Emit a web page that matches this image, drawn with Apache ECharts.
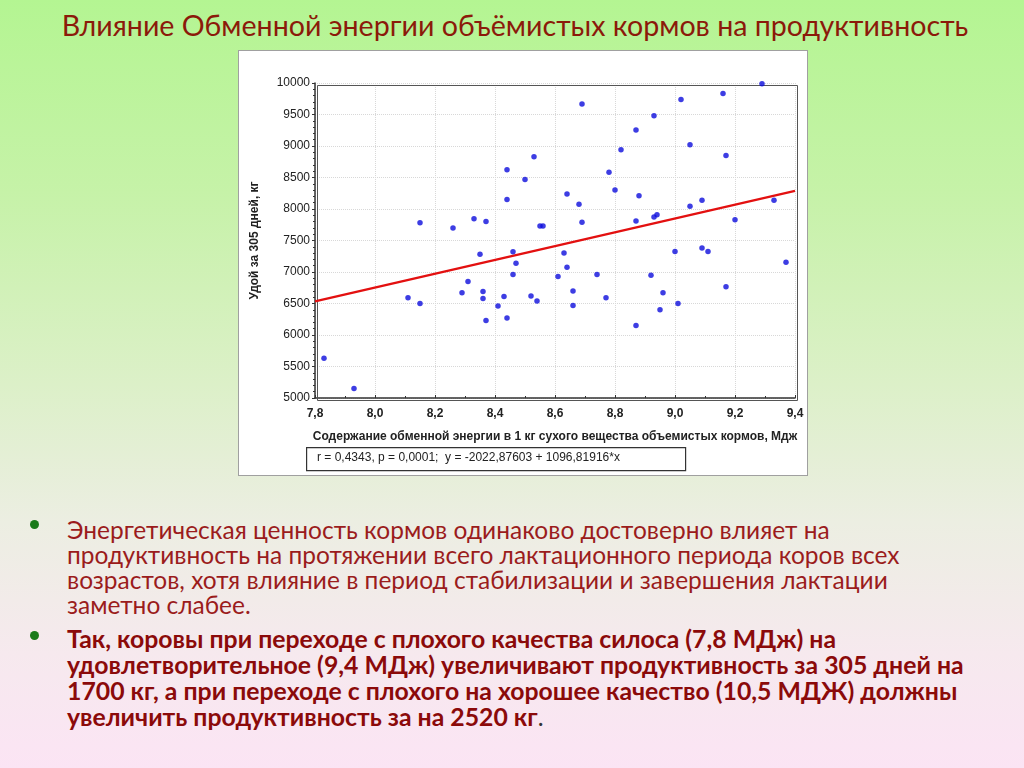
<!DOCTYPE html>
<html><head><meta charset="utf-8">
<script src="https://cdn.jsdelivr.net/npm/echarts@6/dist/echarts.min.js"></script>
<style>
html,body{margin:0;padding:0;width:1024px;height:768px;overflow:hidden;}
body{background:linear-gradient(to bottom,#b4f592 0%,#c6f2a8 25%,#dcf0c8 50%,#eceee2 68%,#f6e9ee 85%,#fbe4f4 100%);font-family:Lato,"Open Sans",sans-serif;position:relative;}
#title{position:absolute;left:0;top:8px;width:1030px;text-align:center;font-size:28.6px;color:#8b1a0a;white-space:nowrap;}
#panel{position:absolute;left:238px;top:50px;width:570px;height:426px;background:#fff;border:1px solid #a0a0a0;box-sizing:border-box;}
#chart{width:568px;height:424px;}
.b{position:absolute;left:67px;font-size:24.5px;line-height:25px;color:#9b1c1c;white-space:nowrap;}
.dot{position:absolute;left:30px;width:9px;height:9px;border-radius:50%;background:#1a7a1a;}
#b2{font-weight:bold;font-size:24.8px;color:#8b0a0a;line-height:26px;}
</style></head>
<body>
<div id="title">Влияние Обменной энергии объёмистых кормов на продуктивность</div>
<div id="panel"><div id="chart"></div></div>
<div class="dot" style="top:520px"></div>
<div class="b" id="b1" style="top:517px">Энергетическая ценность кормов одинаково достоверно влияет на<br>продуктивность на протяжении всего лактационного периода коров всех<br>возрастов, хотя влияние в период стабилизации и завершения лактации<br>заметно слабее.</div>
<div class="dot" style="top:631px"></div>
<div class="b" id="b2" style="top:626px">Так, коровы при переходе с плохого качества силоса (7,8 МДж) на<br>удовлетворительное (9,4 МДж) увеличивают продуктивность за 305 дней на<br>1700 кг, а при переходе с плохого на хорошее качество (10,5 МДЖ) должны<br>увеличить продуктивность за на 2520 кг<span style="font-weight:normal;color:#333">.</span></div>
<script>
const energy = [7.83,7.93,8.11,8.15,8.15,8.26,8.29,8.31,8.33,8.35,8.36,8.36,8.37,8.37,8.41,8.43,8.44,8.44,8.44,8.46,8.46,8.47,8.50,8.52,8.53,8.54,8.55,8.56,8.61,8.63,8.64,8.64,8.66,8.66,8.68,8.69,8.69,8.74,8.77,8.78,8.80,8.82,8.87,8.87,8.87,8.88,8.92,8.93,8.93,8.94,8.95,8.96,9.00,9.01,9.02,9.05,9.05,9.09,9.09,9.11,9.16,9.17,9.17,9.20,9.29,9.33,9.37];
const milk = [5630,5150,6590,7780,6500,7700,6670,6850,7845,7280,6690,6580,7800,6230,6460,6610,8625,8150,6270,7320,6960,7140,8470,6620,8830,6540,7730,7730,6930,7300,8240,7075,6700,6470,8075,9665,7790,6960,6590,8585,8300,8940,9255,7810,6150,8210,6950,9480,7875,7910,6400,6670,7325,6500,9740,9020,8045,8140,7380,7325,9835,8850,6765,7830,9990,8140,7155];
const fitLine = [[7.8,6533],[9.4,8287]];
const xTicks = {min:7.8,max:9.4,step:0.2};
const yTicks = {min:5000,max:10000,step:500};
const eqText = 'r = 0,4343, p = 0,0001;  y = -2022,87603 + 1096,81916*x';
const xName = 'Содержание обменной энергии в 1 кг сухого вещества объемистых кормов, Мдж';
const yName = 'Удой за 305 дней, кг';

const pts = energy.map((e,i)=>[e,milk[i]]);
const ch = echarts.init(document.getElementById('chart'));
const lblFont = '"Liberation Sans Narrow","Arial Narrow",Arial,sans-serif';
ch.setOption({
  animation:false,
  grid:{left:76,top:32,width:480,height:315},
  xAxis:{type:'value',min:xTicks.min,max:xTicks.max,interval:xTicks.step,
    axisLine:{onZero:false,lineStyle:{color:'#333',width:1.5}},
    axisTick:{inside:true,length:3,lineStyle:{color:'#333'}},
    minorTick:{show:true,splitNumber:2,length:2,lineStyle:{color:'#333'}},
    splitLine:{show:true,lineStyle:{color:'#d8d8d8',type:'dotted'}},
    axisLabel:{formatter:v=>v.toFixed(1).replace('.',','),color:'#222',fontFamily:lblFont,fontSize:12,fontWeight:'bold',margin:10},
    name:xName,nameLocation:'middle',nameGap:33,
    nameTextStyle:{color:'#222',fontFamily:lblFont,fontSize:12,fontWeight:'bold'}},
  yAxis:{type:'value',min:yTicks.min,max:yTicks.max,interval:yTicks.step,
    axisLine:{show:true,lineStyle:{color:'#333',width:1.5}},
    axisTick:{show:true,length:3,lineStyle:{color:'#333'}},
    minorTick:{show:true,splitNumber:5,length:2,lineStyle:{color:'#333'}},
    splitLine:{show:true,lineStyle:{color:'#d8d8d8',type:'dotted'}},
    axisLabel:{formatter:v=>String(v),color:'#222',fontFamily:lblFont,fontSize:12,margin:5},
    name:yName,nameLocation:'middle',nameGap:54,nameRotate:90,
    nameTextStyle:{color:'#222',fontFamily:lblFont,fontSize:12,fontWeight:'bold'}},
  series:[
    {type:'line',data:fitLine,symbol:'none',lineStyle:{color:'#e31010',width:2.2},z:2},
    {type:'scatter',data:pts,symbol:'circle',symbolSize:5.5,itemStyle:{color:'#0c0cdc'},z:3}
  ],
  graphic:[
    {type:'rect',left:76,top:32,shape:{width:480,height:315},style:{fill:'none',stroke:'#555',lineWidth:1},silent:true,z:1},
    {type:'rect',left:67,top:396,shape:{width:379,height:23},style:{fill:'#fff',stroke:'#333',lineWidth:1.2}},
    {type:'text',left:78,top:401,style:{text:eqText,fontFamily:lblFont,fontSize:12,fill:'#222'}}
  ]
});
</script>
</body></html>
